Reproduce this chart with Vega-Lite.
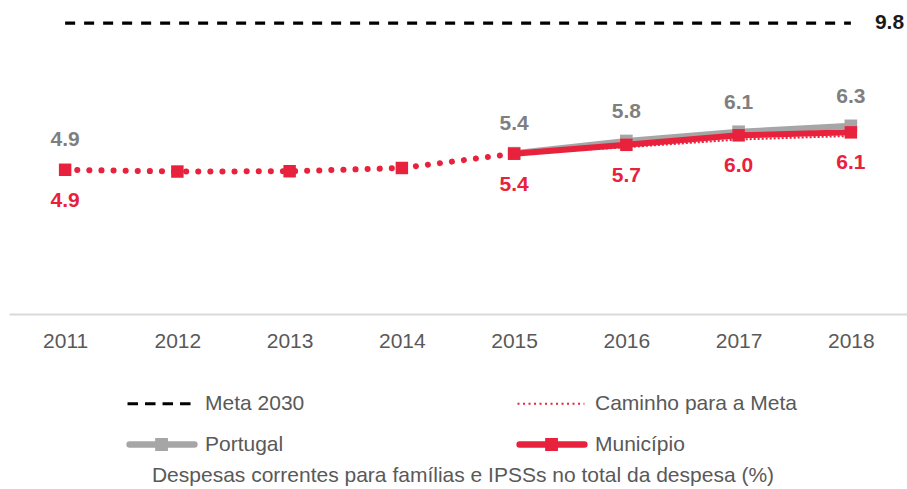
{
  "$schema": "https://vega.github.io/schema/vega-lite/v6.json",
  "width": 898,
  "height": 314,
  "autosize": "none",
  "padding": {"left": 9, "top": 0, "right": 0, "bottom": 175},
  "background": "white",
  "config": {
    "view": {"stroke": null},
    "font": "Liberation Sans"
  },
  "data": {
    "values": [
      {"ano": "2011", "serie": "Meta 2030", "valor": 9.8},
      {"ano": "2018", "serie": "Meta 2030", "valor": 9.8},
      {"ano": "2015", "serie": "Caminho para a Meta", "valor": 5.4},
      {"ano": "2016", "serie": "Caminho para a Meta", "valor": 5.62},
      {"ano": "2017", "serie": "Caminho para a Meta", "valor": 5.88},
      {"ano": "2018", "serie": "Caminho para a Meta", "valor": 6.0},
      {"ano": "2011", "serie": "Portugal", "valor": 4.9},
      {"ano": "2015", "serie": "Portugal", "valor": 5.42},
      {"ano": "2016", "serie": "Portugal", "valor": 5.83},
      {"ano": "2017", "serie": "Portugal", "valor": 6.14},
      {"ano": "2018", "serie": "Portugal", "valor": 6.34},
      {"ano": "2011", "serie": "Município", "valor": 4.86},
      {"ano": "2012", "serie": "Município", "valor": 4.8},
      {"ano": "2013", "serie": "Município", "valor": 4.81},
      {"ano": "2014", "serie": "Município", "valor": 4.92},
      {"ano": "2015", "serie": "Município", "valor": 5.4},
      {"ano": "2016", "serie": "Município", "valor": 5.7},
      {"ano": "2017", "serie": "Município", "valor": 6.02},
      {"ano": "2018", "serie": "Município", "valor": 6.12}
    ]
  },
  "encoding": {
    "x": {
      "field": "ano",
      "type": "ordinal",
      "scale": {"type": "point", "padding": 0.5},
      "axis": {
        "title": null,
        "labelAngle": 0,
        "ticks": false,
        "labelFontSize": 21,
        "labelColor": "#595959",
        "labelPadding": 16,
        "domainColor": "#D9D9D9",
        "domainWidth": 2
      }
    },
    "y": {
      "field": "valor",
      "type": "quantitative",
      "scale": {"domain": [0, 10.58], "nice": false, "zero": true},
      "axis": null
    }
  },
  "layer": [
    {
      "transform": [{"filter": {"field": "serie", "equal": "Meta 2030"}}],
      "mark": {"type": "line", "strokeWidth": 3.3, "strokeDash": [10, 9]},
      "encoding": {
        "color": {
          "field": "serie",
          "type": "nominal",
          "scale": {
            "domain": ["Meta 2030", "Caminho para a Meta", "Portugal", "Município"],
            "range": ["#000000", "#E8213C", "#A6A6A6", "#E8213C"]
          },
          "legend": {
            "orient": "none",
            "legendX": 120,
            "legendY": 390,
            "columns": 2,
            "direction": "horizontal",
            "padding": 0,
            "columnPadding": 99,
            "rowPadding": 11,
            "gridAlign": "all",
            "symbolSize": 324,
            "labelOffset": 55,
            "labelFontSize": 21,
            "labelColor": "#595959",
            "labelLimit": 400,
            "title": "Despesas correntes para famílias e IPSSs no total da despesa (%)",
            "titleOrient": "bottom",
            "titleAnchor": "middle",
            "titleFontSize": 21,
            "titleFontWeight": "normal",
            "titleColor": "#595959",
            "titlePadding": 4,
            "titleLimit": 1000,
            "encode": {
              "symbols": {
                "update": {
                  "shape": {"signal": "indexof(['Portugal','Município'], datum.value) >= 0 ? 'M-1.1,0H6.1M2.1,-0.35H2.8V0.35H2.1Z' : datum.value === 'Meta 2030' ? 'M-1.33,0H6' : 'M-1.33,0H6.1'"},
                  "strokeDash": {"signal": "datum.value === 'Meta 2030' ? [10.5,7] : datum.value === 'Caminho para a Meta' ? [2,3.5] : [1,0]"},
                  "strokeWidth": {"signal": "datum.value === 'Meta 2030' ? 3 : datum.value === 'Caminho para a Meta' ? 2 : 6.5"},
                  "strokeCap": {"signal": "indexof(['Portugal','Município'], datum.value) >= 0 ? 'round' : 'butt'"},
                  "fill": {"signal": "datum.value === 'Portugal' ? '#A6A6A6' : datum.value === 'Município' ? '#E8213C' : 'transparent'"},
                  "opacity": {"value": 1}
                }
              }
            }
          }
        }
      }
    },
    {
      "transform": [{"filter": {"field": "serie", "equal": "Caminho para a Meta"}}],
      "mark": {"type": "line", "strokeWidth": 2, "strokeDash": [2, 2]},
      "encoding": {"color": {"field": "serie", "type": "nominal"}}
    },
    {
      "transform": [
        {"filter": {"field": "serie", "equal": "Portugal"}},
        {"filter": {"field": "ano", "oneOf": ["2015", "2016", "2017", "2018"]}}
      ],
      "mark": {"type": "line", "strokeWidth": 6},
      "encoding": {"color": {"field": "serie", "type": "nominal"}}
    },
    {
      "transform": [
        {"filter": {"field": "serie", "equal": "Portugal"}},
        {"filter": {"field": "ano", "oneOf": ["2015", "2016", "2017", "2018"]}}
      ],
      "mark": {"type": "point", "shape": "square", "filled": true, "size": 160, "opacity": 1},
      "encoding": {"color": {"field": "serie", "type": "nominal"}}
    },
    {
      "transform": [
        {"filter": {"field": "serie", "equal": "Município"}},
        {"filter": {"field": "ano", "oneOf": ["2011", "2012", "2013", "2014", "2015"]}}
      ],
      "mark": {"type": "line", "strokeWidth": 6, "strokeDash": [0.1, 12], "strokeCap": "round"},
      "encoding": {"color": {"field": "serie", "type": "nominal"}}
    },
    {
      "transform": [
        {"filter": {"field": "serie", "equal": "Município"}},
        {"filter": {"field": "ano", "oneOf": ["2015", "2016", "2017", "2018"]}}
      ],
      "mark": {"type": "line", "strokeWidth": 6},
      "encoding": {"color": {"field": "serie", "type": "nominal"}}
    },
    {
      "transform": [{"filter": {"field": "serie", "equal": "Município"}}],
      "mark": {"type": "point", "shape": "square", "filled": true, "size": 155, "opacity": 1},
      "encoding": {"color": {"field": "serie", "type": "nominal"}}
    },
    {
      "transform": [{"filter": {"field": "serie", "equal": "Portugal"}}],
      "mark": {"type": "text", "dy": -29, "fontSize": 21, "fontWeight": "bold", "color": "#7F7F7F"},
      "encoding": {"text": {"field": "valor", "type": "quantitative", "format": ".1f"}}
    },
    {
      "transform": [
        {"filter": {"field": "serie", "equal": "Município"}},
        {"filter": {"field": "ano", "oneOf": ["2011", "2015", "2016", "2017", "2018"]}}
      ],
      "mark": {"type": "text", "dy": 31, "fontSize": 21, "fontWeight": "bold", "color": "#E8213C"},
      "encoding": {"text": {"field": "valor", "type": "quantitative", "format": ".1f"}}
    },
    {
      "transform": [
        {"filter": {"field": "serie", "equal": "Meta 2030"}},
        {"filter": {"field": "ano", "equal": "2018"}}
      ],
      "mark": {"type": "text", "dx": 24, "align": "left", "fontSize": 21, "fontWeight": "bold", "color": "#1A1A1A"},
      "encoding": {"text": {"field": "valor", "type": "quantitative", "format": ".1f"}}
    }
  ]
}
